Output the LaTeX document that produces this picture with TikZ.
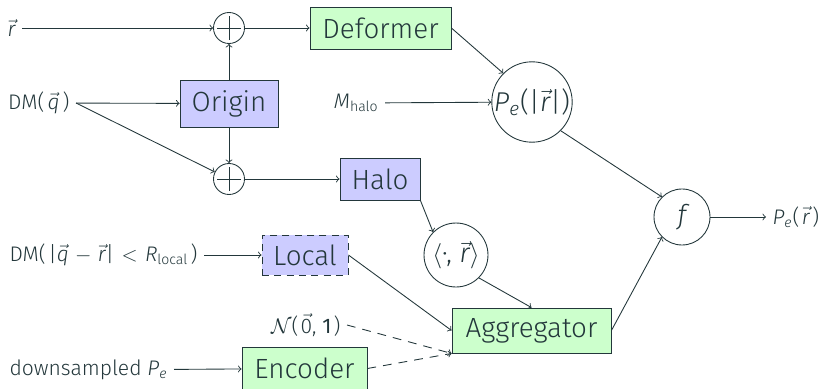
\documentclass[tikz,border=0pt]{standalone}
\usepackage{fontspec}
\IfFontExistsTF{Fira Sans Light}{%
  \setmainfont{Fira Sans Light}[ItalicFont={Fira Sans Light Italic},BoldFont={Fira Sans}]}{%
  \setmainfont{Fira Sans}}
\definecolor{ink}{HTML}{23373B}
\definecolor{bluefill}{HTML}{CCCCFF}
\definecolor{greenfill}{HTML}{CCFFCC}
\newcommand\myvr{\ensuremath{\vec{\hbox{\itshape r}}}}
\newcommand\myvq{\ensuremath{\vec{\hbox{\itshape q}}}}
\newcommand\myvz{\ensuremath{\vec{\hbox{0}}}}
\newcommand\myPe{{\itshape P}\textsubscript{\itshape e}}
\tikzset{
  lbl/.style={inner sep=3.5pt, text=ink, font=\fontsize{12}{14}\selectfont},
  blockbox/.style={draw=ink, line width=0.5pt, text=ink, font=\fontsize{15.8}{18}\selectfont, inner sep=0pt},
  bluebox/.style={blockbox, fill=bluefill},
  greenbox/.style={blockbox, fill=greenfill},
  opcircle/.style={circle, draw=ink, line width=0.5pt, text=ink, inner sep=0pt, font=\fontsize{15.5}{18}\selectfont},
  plusnode/.style={circle, draw=ink, line width=0.5pt, minimum size=0.62cm, inner sep=0pt,
    path picture={\draw[ink, line width=0.5pt] ([yshift=-0.07cm]path picture bounding box.north) -- ([yshift=0.07cm]path picture bounding box.south);
                  \draw[ink, line width=0.5pt] ([xshift=0.07cm]path picture bounding box.west) -- ([xshift=-0.07cm]path picture bounding box.east);}},
  conn/.style={draw=ink, line width=0.5pt, ->},
  dconn/.style={conn, dashed, dash pattern=on 5pt off 4pt},
}
\begin{document}
\begin{tikzpicture}[x=0.02cm, y=-0.02cm]
\useasboundingbox (0,0) rectangle (822,389);
% labels
\node[lbl, anchor=east] (lr) at (22,28) {\myvr};
\node[lbl, anchor=east] (ldm) at (76,103) {DM(\kern0.15em\myvq\kern0.15em)};
\node[lbl, anchor=east] (lmh) at (385,103) {{\itshape M}\textsubscript{halo}};
\node[lbl, anchor=east] (lloc) at (204,255) {DM(\kern0.12em|\myvq\hspace{0.3em}$-$\hspace{0.3em}\myvr|\hspace{0.35em}$<$\hspace{0.35em}{\itshape R}\textsubscript{local}\kern0.12em)};
\node[lbl, anchor=east] (ln) at (347,325) {$\mathcal{N}$(\kern0.1em\myvz, {\bfseries 1}\kern0.1em)};
\node[lbl, anchor=east] (lds) at (174,370) {downsampled \myPe};
\node[lbl, anchor=west] (lout) at (766,217) {\myPe(\kern0.12em\myvr\kern0.12em)};
% operators
\node[plusnode] (p1) at (229,28) {};
\node[plusnode] (p2) at (229,179) {};
% boxes
\node[greenbox, minimum width=2.82cm, minimum height=0.84cm] (def) at (380.5,28) {Deformer};
\node[bluebox, minimum width=1.96cm, minimum height=0.94cm] (ori) at (229,103.5) {Origin};
\node[bluebox, minimum width=1.6cm, minimum height=0.84cm] (halo) at (380,179) {Halo};
\node[bluebox, dashed, dash pattern=on 4pt off 3pt, minimum width=1.72cm, minimum height=0.80cm] (loc) at (305,255) {Local};
\node[greenbox, minimum width=2.5cm, minimum height=0.84cm] (enc) at (304.5,368.5) {Encoder};
\node[greenbox, minimum width=3.18cm, minimum height=0.90cm] (agg) at (531.5,330.5) {Aggregator};
% circles
\node[opcircle, minimum size=1.56cm] (pe) at (532,102) {\myPe(|\myvr|)};
\node[opcircle, minimum size=1.28cm] (ip) at (456,255) {$\langle$·, \myvr$\rangle$};
\node[opcircle, minimum size=1.12cm] (f) at (682,217) {{\itshape f}};
% connectors
\draw[conn] (lr) -- (p1);
\draw[conn] (p1) -- (def);
\draw[conn] (ldm) -- (ori);
\draw[conn] (ldm.east) -- (p2);
\draw[conn] (ori) -- (p1);
\draw[conn] (ori) -- (p2);
\draw[conn] (p2) -- (halo);
\draw[conn] (def.east) -- (pe.north west);
\draw[conn] (lmh) -- (pe);
\draw[conn] (pe.south east) -- (f.north west);
\draw[conn] (halo.south east) -- (ip.north west);
\draw[conn] (lloc) -- (loc);
\draw[conn] (loc.east) -- (agg.west);
\draw[conn] (ip.south east) -- (agg.north);
\draw[dconn] (ln.east) -- (agg.south west);
\draw[conn] (lds) -- (enc);
\draw[dconn] (enc.east) -- (agg.south west);
\draw[conn] (agg.east) -- (f.south west);
\draw[conn] (f) -- (lout);
\end{tikzpicture}
\end{document}
